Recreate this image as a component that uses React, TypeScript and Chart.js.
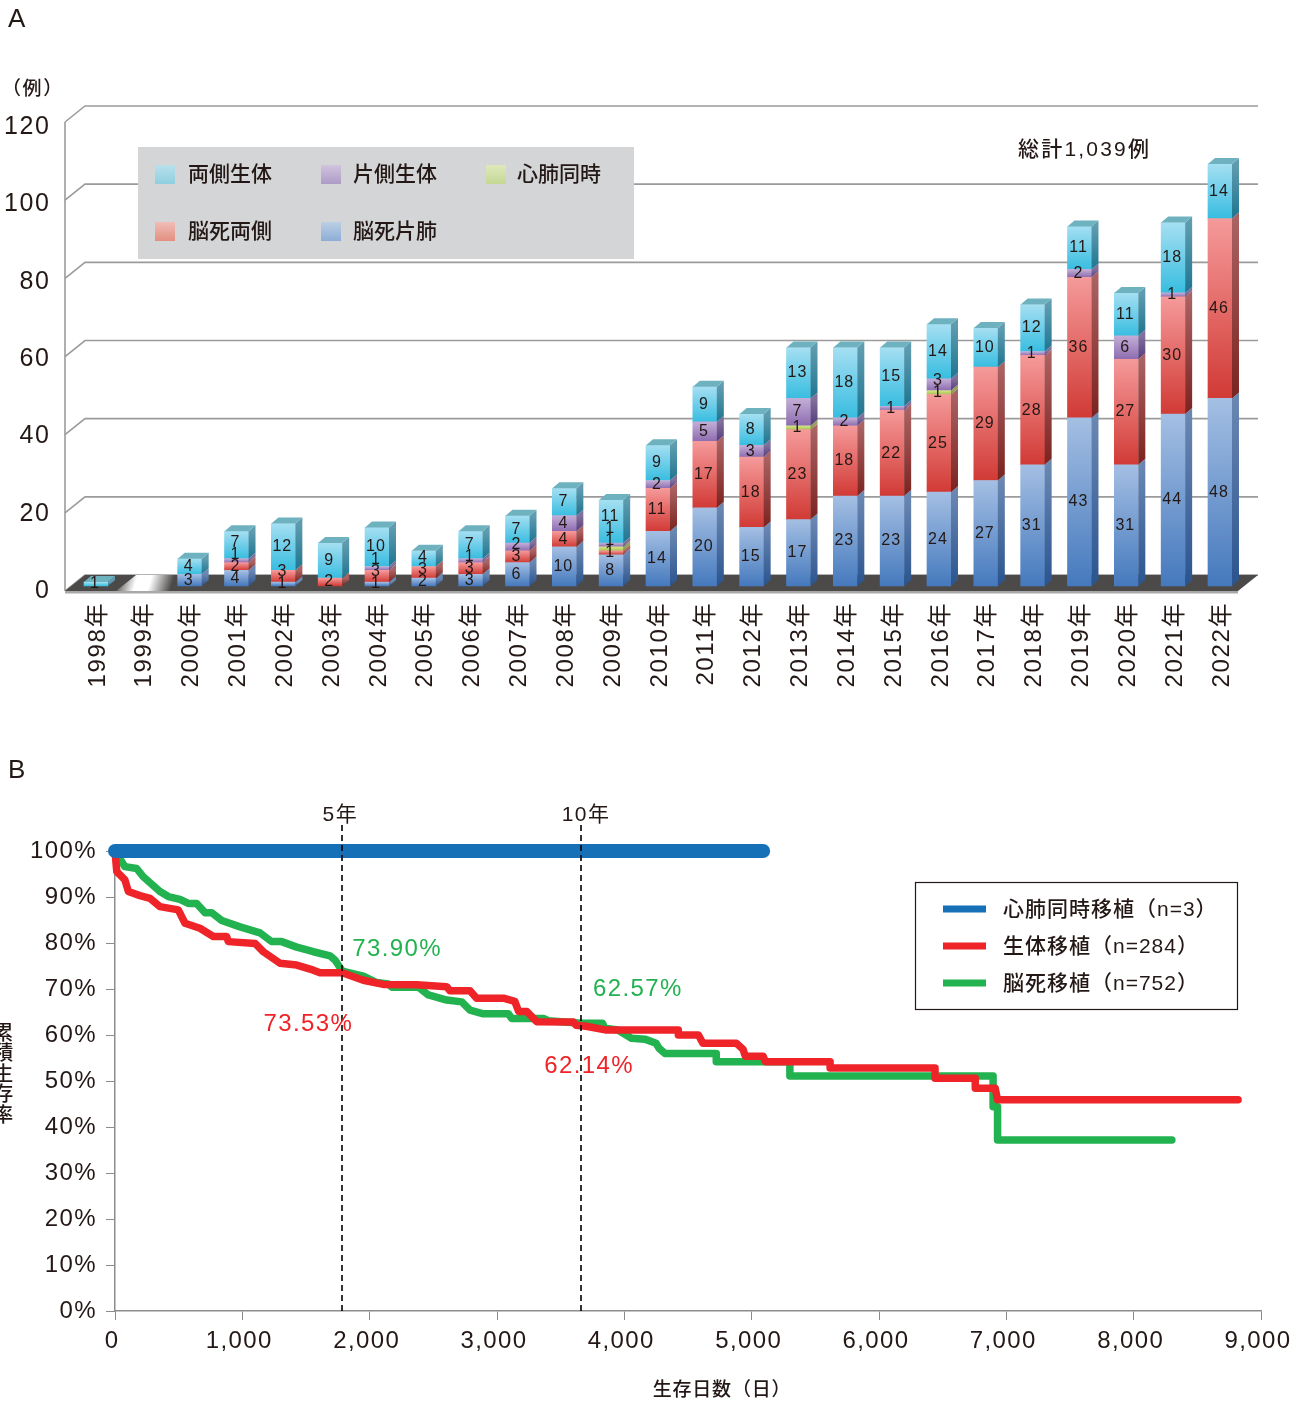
import React, { useEffect, useRef } from "react";
import { Chart, registerables } from "chart.js";

Chart.register(...registerables);

const FONT = '"Liberation Sans", "Noto Sans CJK JP", sans-serif';
const INK = "#231815";

// Annual transplant counts, stacked from the bottom of each column upward.
const years = [
  "1998年", "1999年", "2000年", "2001年", "2002年", "2003年", "2004年", "2005年", "2006年",
  "2007年", "2008年", "2009年", "2010年", "2011年", "2012年", "2013年", "2014年", "2015年",
  "2016年", "2017年", "2018年", "2019年", "2020年", "2021年", "2022年",
];
const brainSingle = [0, 0, 3, 4, 1, 0, 1, 2, 3, 6, 10, 8, 14, 20, 15, 17, 23, 23, 24, 27, 31, 43, 31, 44, 48];
const brainBilateral = [0, 0, 0, 2, 3, 2, 3, 3, 3, 3, 4, 1, 11, 17, 18, 23, 18, 22, 25, 29, 28, 36, 27, 30, 46];
const heartLungCounts = [0, 0, 0, 0, 0, 0, 0, 0, 0, 0, 0, 1, 0, 0, 0, 1, 0, 0, 1, 0, 0, 0, 0, 0, 0];
const livingUnilateral = [0, 0, 0, 1, 0, 0, 1, 0, 1, 2, 4, 1, 2, 5, 3, 7, 2, 1, 3, 0, 1, 2, 6, 1, 0];
const livingBilateral = [1, 0, 4, 7, 12, 9, 10, 4, 7, 7, 7, 11, 9, 9, 8, 13, 18, 15, 14, 10, 12, 11, 11, 18, 14];
const countTicks = [0, 20, 40, 60, 80, 100, 120];

// Survival curves as [days, percent] vertices.
const heartLungSurvival = [[0, 100], [5090, 100]];
const livingSurvival = [
  [0, 100], [14, 95.5], [78, 93.7], [105, 91.2], [196, 90.3], [275, 89.7], [353, 87.9], [497, 87.2],
  [550, 84.3], [667, 83.2], [772, 81.4], [877, 81.4], [890, 80.3], [1100, 79.9], [1165, 78.1],
  [1296, 75.6], [1427, 75.2], [1558, 74.1], [1610, 73.53], [1785, 73.53], [1950, 71.9], [2107, 71.0],
  [2370, 70.9], [2605, 70.5], [2631, 69.6], [2788, 69.6], [2840, 68.0], [3050, 68.0], [3140, 67.3],
  [3170, 65.1], [3235, 65.1], [3312, 62.9], [3600, 62.8], [3620, 62.14], [3700, 61.9], [3850, 61.1],
  [4424, 61.1], [4424, 60.0], [4582, 60.0], [4617, 58.2], [4880, 58.2], [4932, 56.9], [4950, 55.4],
  [5090, 55.4], [5108, 54.2], [5616, 54.2], [5616, 52.8], [6440, 52.8], [6440, 50.6], [6756, 50.6],
  [6756, 48.4], [6913, 48.4], [6931, 45.9], [8820, 45.9],
];
const brainDeathSurvival = [
  [0, 100], [78, 96.6], [170, 96.2], [222, 94.4], [353, 91.2], [419, 90.1], [510, 89.5], [576, 88.6],
  [641, 88.6], [707, 86.6], [759, 86.6], [838, 84.9], [982, 83.5], [1139, 82.2], [1230, 80.3],
  [1309, 80.3], [1427, 79.1], [1558, 78.1], [1689, 77.2], [1728, 76.3], [1785, 73.9], [1950, 72.8],
  [2055, 71.4], [2147, 71.1], [2173, 70.4], [2382, 70.4], [2461, 68.7], [2605, 67.6], [2723, 67.2],
  [2788, 65.4], [2893, 64.6], [3090, 64.6], [3115, 63.6], [3364, 63.6], [3403, 63.1], [3660, 62.57],
  [3828, 62.57], [3846, 61.5], [3950, 61.1], [4056, 59.3], [4161, 59.1], [4249, 58.2], [4273, 57.1],
  [4319, 56.0], [4722, 56.0], [4722, 54.2], [5300, 54.2], [5300, 51.1], [6896, 51.1], [6896, 44.4],
  [6931, 44.4], [6931, 37.2], [8300, 37.2],
];
const fiveYearDay = 1785;
const tenYearDay = 3660;

const stackSeries = [
  { label: "脳死片肺", values: brainSingle, front: ["#a4bfe3", "#4579bd"], side: ["#6a87b2", "#2a548f"], swatch: ["#bccfe5", "#8cadd6"] },
  { label: "脳死両側", values: brainBilateral, front: ["#f59a9a", "#d13a35"], side: ["#aa6262", "#7a2320"], swatch: ["#efbdb8", "#e38f80"] },
  { label: "心肺同時", values: heartLungCounts, front: ["#d6e48e", "#a6c24a"], side: ["#94a25a", "#6f8a2c"], swatch: ["#dfe8bc", "#c4d895"] },
  { label: "片側生体", values: livingUnilateral, front: ["#c3aed6", "#8d6cb0"], side: ["#82709c", "#553c7c"], swatch: ["#d0c4dd", "#ae9bc6"] },
  { label: "両側生体", values: livingBilateral, front: ["#a5dff2", "#38bde0"], side: ["#5f9cb0", "#1f7590"], swatch: ["#b9e0ea", "#8fcfe0"] },
];
const legendOrder = [4, 3, 2, 1, 0];

const curves = [
  { label: "心肺同時移植（n=3）", points: heartLungSurvival, color: "#1570b8", width: 14 },
  { label: "生体移植（n=284）", points: livingSurvival, color: "#ee2428", width: 7.5 },
  { label: "脳死移植（n=752）", points: brainDeathSurvival, color: "#22b24f", width: 7.5 },
];

function text(ctx: any, s: string, x: number, y: number, font: string, color: string, align: any = "left", spacing?: string) {
  ctx.save();
  if (spacing) ctx.letterSpacing = spacing;
  ctx.font = font;
  ctx.fillStyle = color;
  ctx.textAlign = align;
  ctx.textBaseline = "middle";
  ctx.fillText(s, x, y);
  ctx.restore();
}

function quad(ctx: any, pts: number[][], fill: any) {
  ctx.beginPath();
  pts.forEach(([x, y], i) => (i ? ctx.lineTo(x, y) : ctx.moveTo(x, y)));
  ctx.closePath();
  ctx.fillStyle = fill;
  ctx.fill();
}

function vGrad(ctx: any, top: number, bottom: number, stops: string[]) {
  const g = ctx.createLinearGradient(0, top, 0, bottom);
  g.addColorStop(0, stops[0]);
  g.addColorStop(1, stops[1]);
  return g;
}

const DEPTH_X = 7;
const DEPTH_Y = 6;

// Back wall, floor and the key panel sit behind the columns.
const stageBackdrop = {
  id: "stageBackdrop",
  beforeDraw(chart: any) {
    chart.ctx.letterSpacing = "1.6px";
  },
  beforeDatasetsDraw(chart: any) {
    const { ctx } = chart;
    const y = chart.scales.y;
    ctx.save();
    ctx.strokeStyle = "#9b9b9b";
    ctx.lineWidth = 1.6;
    countTicks.forEach((v) => {
      const py = y.getPixelForValue(v);
      ctx.beginPath();
      ctx.moveTo(65, py + 5);
      ctx.lineTo(85, py - 11);
      ctx.lineTo(1258, py - 11);
      ctx.stroke();
    });
    ctx.beginPath();
    ctx.moveTo(65, y.getPixelForValue(120) + 5);
    ctx.lineTo(65, y.getPixelForValue(0) + 5);
    ctx.stroke();
    const floorFront = y.getPixelForValue(0) + 5;
    const floorBack = y.getPixelForValue(0) - 11;
    quad(ctx, [[65, floorFront], [85, floorBack], [1258, floorBack], [1238, floorFront]], "#4c4a48");
    const sheen = ctx.createLinearGradient(118, floorBack, 170, floorFront);
    sheen.addColorStop(0, "rgba(76,74,72,1)");
    sheen.addColorStop(0.35, "rgba(255,255,255,1)");
    sheen.addColorStop(0.6, "rgba(255,255,255,1)");
    sheen.addColorStop(1, "rgba(76,74,72,1)");
    quad(ctx, [[116, floorFront], [136, floorBack], [190, floorBack], [170, floorFront]], sheen);
    ctx.fillStyle = "#a8a8a8";
    ctx.fillRect(65, floorFront, 1173, 2.5);

    ctx.fillStyle = "#d4d5d7";
    ctx.fillRect(138, 147, 496, 112);
    const cells = [[155, 165], [321, 165], [486, 165], [155, 222], [321, 222]];
    legendOrder.forEach((idx, i) => {
      const [sx, sy] = cells[i];
      const s = stackSeries[idx];
      ctx.fillStyle = vGrad(ctx, sy, sy + 19, s.swatch);
      ctx.fillRect(sx, sy, 20, 19);
      text(ctx, s.label, sx + (i === 2 ? 31 : i === 0 || i === 3 ? 33 : 32), sy + 10.5, `500 21px ${FONT}`, INK, "left", "0px");
    });
    ctx.restore();
  },
  afterDatasetsDraw(chart: any) {
    const { ctx } = chart;
    const y = chart.scales.y;
    const x = chart.scales.x;
    years.forEach((_, i) => {
      const cx = x.getPixelForValue(i);
      const right = cx + 12;
      let base = 0;
      let lastY: number | null = null;
      let labelY = Infinity;
      stackSeries.forEach((s) => {
        const v = s.values[i];
        if (!v) return;
        const y0 = y.getPixelForValue(base);
        const y1 = y.getPixelForValue(base + v);
        quad(
          ctx,
          [[right, y1], [right + DEPTH_X, y1 - DEPTH_Y], [right + DEPTH_X, y0 - DEPTH_Y], [right, y0]],
          vGrad(ctx, y1, y0, s.side),
        );
        base += v;
        lastY = y1;
      });
      if (lastY !== null) {
        quad(ctx, [[cx - 12, lastY], [cx - 12 + DEPTH_X, lastY - DEPTH_Y], [right + DEPTH_X, lastY - DEPTH_Y], [right, lastY]], "#6fb2bf");
      }
      base = 0;
      stackSeries.forEach((s) => {
        const v = s.values[i];
        if (!v) return;
        let mid = (y.getPixelForValue(base) + y.getPixelForValue(base + v)) / 2;
        if (mid > labelY - 12) mid = labelY - 12;
        labelY = mid;
        text(ctx, String(v), cx - 1, mid, `16px ${FONT}`, INK, "center", "1px");
        base += v;
      });
    });
    text(ctx, "総計1,039例", 1018, 150, `500 21px ${FONT}`, INK, "left", "2.2px");
    text(ctx, "（例）", 2, 90, `500 19px ${FONT}`, INK);
    text(ctx, "A", 8, 20, `26px ${FONT}`, INK);
  },
};

// Landmark years, value callouts, key box and axis captions for the survival plot.
const survivalNotes = {
  id: "survivalNotes",
  beforeDraw(chart: any) {
    chart.ctx.letterSpacing = "1.4px";
  },
  afterDatasetsDraw(chart: any) {
    const { ctx } = chart;
    const x = chart.scales.x;
    const y = chart.scales.y;
    const top = chart.chartArea.top;
    ctx.save();
    ctx.strokeStyle = "#000";
    ctx.lineWidth = 1.6;
    ctx.setLineDash([6, 4]);
    [fiveYearDay, tenYearDay].forEach((d) => {
      const px = Math.round(x.getPixelForValue(d));
      ctx.beginPath();
      ctx.moveTo(px, top - 26);
      ctx.lineTo(px, chart.chartArea.bottom);
      ctx.stroke();
    });
    ctx.restore();

    const px5 = x.getPixelForValue(fiveYearDay);
    const px10 = x.getPixelForValue(tenYearDay);
    text(ctx, "5年", px5 - 2, top - 36, `21px ${FONT}`, INK, "center");
    text(ctx, "10年", px10 + 5, top - 36, `21px ${FONT}`, INK, "center");
    text(ctx, "73.90%", px5 + 10, y.getPixelForValue(73.9) - 22, `24px ${FONT}`, curves[2].color);
    text(ctx, "73.53%", px5 + 11, y.getPixelForValue(73.53) + 52, `24px ${FONT}`, curves[1].color, "right");
    text(ctx, "62.57%", px10 + 12, y.getPixelForValue(62.57) - 34, `24px ${FONT}`, curves[2].color);
    text(ctx, "62.14%", px10 + 53, y.getPixelForValue(62.14) + 41, `24px ${FONT}`, curves[1].color, "right");

    const boxTop = top + 31;
    ctx.save();
    ctx.fillStyle = "#fff";
    ctx.strokeStyle = "#231815";
    ctx.lineWidth = 1.2;
    ctx.fillRect(915.5, boxTop + 0.5, 322, 127);
    ctx.strokeRect(915.5, boxTop + 0.5, 322, 127);
    curves.forEach((c, i) => {
      const ly = boxTop + 27 + i * 37;
      ctx.fillStyle = c.color;
      ctx.fillRect(943, ly - 3.5, 43, 7);
      text(ctx, c.label, 1003, ly + 1, `500 21px ${FONT}`, INK, "left", "1px");
    });
    ctx.restore();

    text(ctx, "生存日数（日）", 722, chart.height - 11, `500 19px ${FONT}`, INK, "center", "0.8px");
    Array.from("累積生存率").forEach((ch, i) => {
      text(ctx, ch, 4, 294 + i * 20.6, `500 20px ${FONT}`, INK, "center");
    });
    text(ctx, "B", 8, 31, `26px ${FONT}`, INK);
  },
};

export default function App() {
  const stageRef = useRef<HTMLCanvasElement>(null);
  const curveRef = useRef<HTMLCanvasElement>(null);

  useEffect(() => {
    const stage = new Chart(stageRef.current as any, {
      type: "bar",
      data: {
        labels: years,
        datasets: stackSeries.map((s) => ({
          label: s.label,
          data: s.values,
          barThickness: 24,
          borderWidth: 0,
          backgroundColor: (c: any) => {
            const scale = c.chart.scales?.y;
            if (!scale || c.dataIndex === undefined) return s.front[1];
            let base = 0;
            for (const o of stackSeries) {
              if (o === s) break;
              base += o.values[c.dataIndex];
            }
            const topPx = scale.getPixelForValue(base + s.values[c.dataIndex]);
            const basePx = scale.getPixelForValue(base);
            if (!Number.isFinite(topPx) || !Number.isFinite(basePx)) return s.front[1];
            return vGrad(c.chart.ctx, topPx, basePx, s.front);
          },
        })),
      } as any,
      options: {
        responsive: false,
        animation: false,
        layout: { padding: { top: 117, right: 59.6, left: 0, bottom: 0 } },
        plugins: { legend: { display: false }, tooltip: { enabled: false } },
        scales: {
          x: {
            stacked: true,
            grid: { display: false },
            border: { display: false },
            afterFit: (s: any) => {
              s.height = 129;
            },
            ticks: {
              autoSkip: false,
              maxRotation: 90,
              minRotation: 90,
              padding: 3,
              labelOffset: 2,
              color: INK,
              font: { family: FONT, size: 24 },
            },
          },
          y: { stacked: true, display: false, min: -1.279, max: 120 },
          yCount: {
            axis: "y",
            position: "left",
            min: 0,
            max: 122.58,
            grid: { display: false },
            border: { display: false },
            afterBuildTicks: (s: any) => {
              s.ticks = countTicks.map((value) => ({ value }));
            },
            afterFit: (s: any) => {
              s.width = 72.6;
            },
            ticks: { padding: 14, color: INK, font: { family: FONT, size: 25 } },
          },
        },
      } as any,
      plugins: [stageBackdrop],
    });

    const survival = new Chart(curveRef.current as any, {
      type: "line",
      data: {
        datasets: curves.map((c) => ({
          label: c.label,
          data: c.points.map(([x, y]) => ({ x, y })),
          borderColor: c.color,
          borderWidth: c.width,
          borderCapStyle: "round",
          borderJoinStyle: "round",
          pointRadius: 0,
          tension: 0,
          clip: false,
        })),
      } as any,
      options: {
        responsive: false,
        animation: false,
        layout: { padding: { top: 111, right: 42, left: 0, bottom: 0 } },
        plugins: { legend: { display: false }, tooltip: { enabled: false } },
        scales: {
          x: {
            type: "linear",
            min: 0,
            max: 9000,
            afterFit: (s: any) => {
              s.height = 91;
            },
            grid: { drawOnChartArea: false, tickLength: 9, color: "#8c8c8c" },
            border: { color: "#8c8c8c", width: 1.5 },
            ticks: {
              stepSize: 1000,
              maxRotation: 0,
              padding: 7,
              labelOffset: -3,
              color: INK,
              font: { family: FONT, size: 24 },
              callback: (v: any) => Number(v).toLocaleString("en-US"),
            },
          },
          y: {
            min: 0,
            max: 100,
            afterFit: (s: any) => {
              s.width = 115;
            },
            grid: { drawOnChartArea: false, tickLength: 9, color: "#8c8c8c" },
            border: { color: "#8c8c8c", width: 1.5 },
            ticks: {
              stepSize: 10,
              padding: 9,
              color: INK,
              font: { family: FONT, size: 24 },
              callback: (v: any) => `${v}%`,
            },
          },
        },
      } as any,
      plugins: [survivalNotes],
    });

    return () => {
      stage.destroy();
      survival.destroy();
    };
  }, []);

  return (
    <div style={{ position: "absolute", left: 0, top: 0, width: 1303, height: 1402, background: "#fff", overflow: "hidden" }}>
      <canvas ref={stageRef} width={1303} height={720} style={{ position: "absolute", left: 0, top: 0, display: "block" }} />
      <canvas ref={curveRef} width={1303} height={662} style={{ position: "absolute", left: 0, top: 740, display: "block" }} />
    </div>
  );
}
